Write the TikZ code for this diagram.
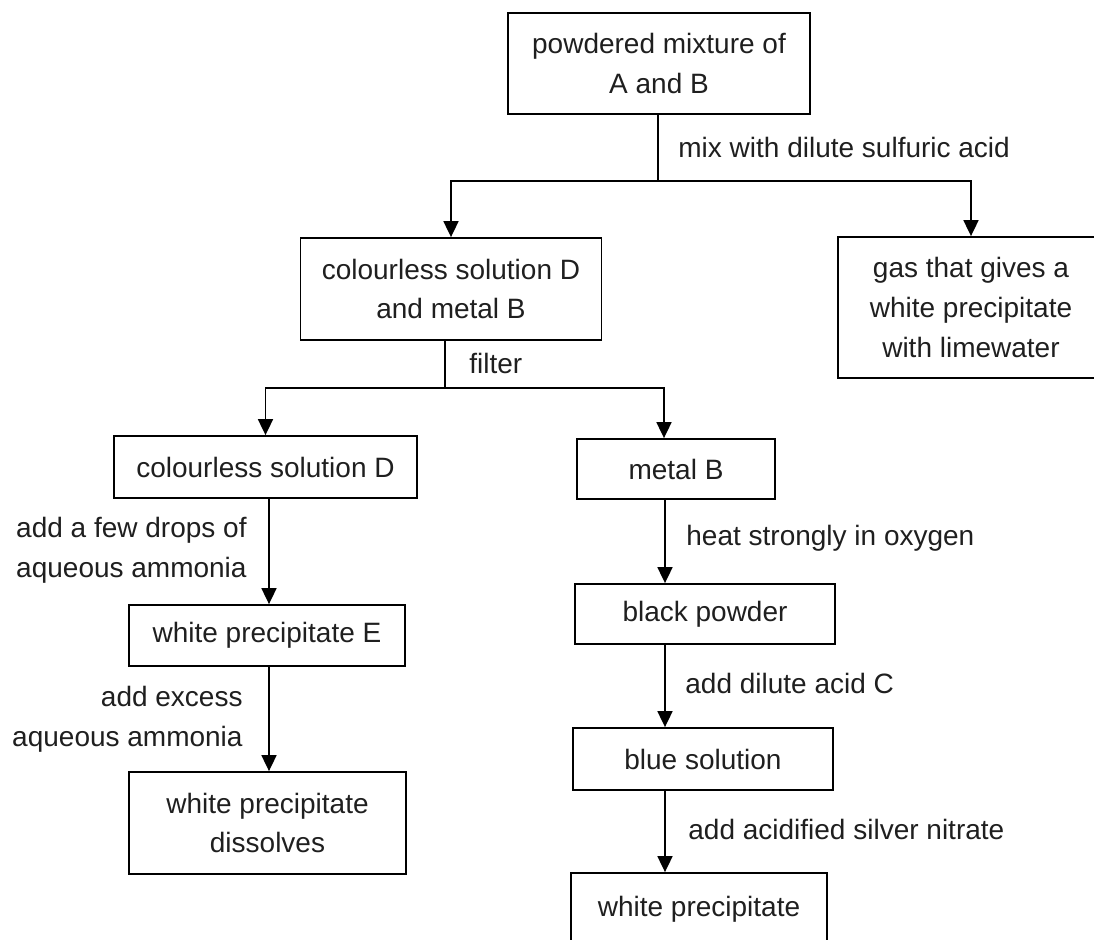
\documentclass[tikz,border=0pt]{standalone}
\usepackage{fontspec}
\setmainfont{Liberation Sans}
\usetikzlibrary{arrows.meta}
\begin{document}
\begin{tikzpicture}[x=0.5pt,y=-0.5pt,
  txt/.style={font=\fontsize{14}{19.8}\selectfont, text=black!88},
  box/.style={txt, draw, line width=0.9pt, inner sep=0pt, align=center},
  lbl/.style={txt, inner sep=0pt},
  ln/.style={line width=0.9pt},
  arr/.style={line width=0.9pt, -{Triangle[length=8pt,width=7.5pt]}}]
\clip (0,0) rectangle (1094,939);
\useasboundingbox (0,0) rectangle (1094,939);
% boxes
\node[box, minimum width=151pt, minimum height=50.5pt] (top) at (659,63.5) {powdered mixture of\\A and B};
\node[box, minimum width=150.5pt, minimum height=51pt] (mix) at (451,289) {colourless solution D\\and metal B};
\node[box, minimum width=133pt, minimum height=70.5pt] (gas) at (971,307.5) {gas that gives a\\white precipitate\\with limewater};
\node[box, minimum width=151.5pt, minimum height=31pt] (csD) at (265.5,467) {colourless solution D};
\node[box, minimum width=99pt, minimum height=30pt] (metalB) at (676,469) {metal B};
\node[box, minimum width=138pt, minimum height=30.5pt] (wpE) at (267,635.5) {white precipitate E};
\node[box, minimum width=138.5pt, minimum height=51pt] (wpd) at (267.5,823) {white precipitate\\dissolves};
\node[box, minimum width=130pt, minimum height=30pt] (black) at (705,614) {black powder};
\node[box, minimum width=130pt, minimum height=31pt] (blue) at (703,759) {blue solution};
\node[box, minimum width=128pt, minimum height=36pt] (white) at (699,909) {white precipitate};
% junctions and columns
\coordinate (j1) at (657.6,181);
\coordinate (j2) at (445,388);
\coordinate (cR2) at (664,0);
\coordinate (cL3) at (269,0);
\coordinate (cR3) at (665,0);
% connectors
\draw[ln] (top.south -| j1) -- (j1);
\draw[arr] (j1) -| (mix.north);
\draw[arr] (j1) -| (gas.north);
\draw[ln] (mix.south -| j2) -- (j2);
\draw[arr] (j2) -| (csD.north);
\draw[arr] (j2) -| (metalB.north -| cR2);
\draw[arr] (csD.south -| cL3) -- (wpE.north -| cL3);
\draw[arr] (wpE.south -| cL3) -- (wpd.north -| cL3);
\draw[arr] (metalB.south -| cR3) -- (black.north -| cR3);
\draw[arr] (black.south -| cR3) -- (blue.north -| cR3);
\draw[arr] (blue.south -| cR3) -- (white.north -| cR3);
% labels
\node[lbl, anchor=west] (l1) at (678,147) {mix with dilute sulfuric acid};
\node[lbl, anchor=west] (l2) at (469,363) {filter};
\node[lbl, anchor=east, align=left] (l3) at (247,550.5) {add a few drops of\\aqueous ammonia};
\node[lbl, anchor=east, align=right] (l4) at (243,719.5) {add excess\\aqueous ammonia};
\node[lbl, anchor=west] (l5) at (686,538) {heat strongly in oxygen};
\node[lbl, anchor=west] (l6) at (685,683) {add dilute acid C};
\node[lbl, anchor=west] (l7) at (688,829) {add acidified silver nitrate};
\end{tikzpicture}
\end{document}
